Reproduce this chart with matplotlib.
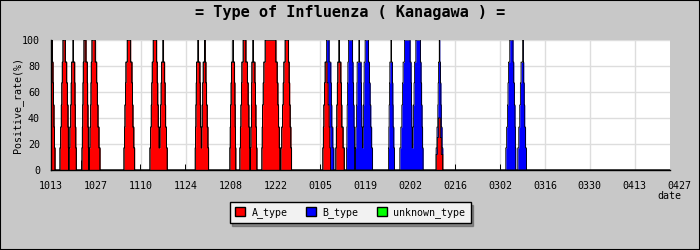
import numpy as np
import matplotlib
matplotlib.use("Agg")
import matplotlib.pyplot as plt
from matplotlib.patches import Patch, Rectangle
from matplotlib.transforms import blended_transform_factory

TITLE = "= Type of Influenza ( Kanagawa ) ="
DATE_LABELS = ["1013", "1027", "1110", "1124", "1208", "1222", "0105", "0119",
               "0202", "0216", "0302", "0316", "0330", "0413", "0427"]
LABEL_DAYS = list(range(0, 197, 14))
DAYS_SHOWN = 193

# positive rate steps per outbreak, (from_day, to_day, rate)
A_RECTS = [
    (0.00, 0.47, 100), (0.00, 0.62, 83), (0.00, 0.78, 67), (0.00, 0.93, 50), (0.00, 1.09, 33), (0.00, 1.25, 17),
    (3.74, 4.46, 100), (3.52, 4.89, 83), (3.37, 5.10, 67), (3.21, 5.30, 50), (3.01, 5.41, 33), (2.80, 5.52, 17),
    (6.86, 7.01, 100), (6.45, 7.39, 83), (6.30, 7.48, 67), (6.14, 7.57, 50), (5.88, 7.73, 33), (5.61, 7.88, 17),
    (10.28, 10.91, 100), (10.07, 11.31, 83), (9.98, 11.42, 67), (9.88, 11.53, 50), (9.77, 11.64, 33), (9.66, 11.75, 17),
    (12.78, 13.80, 100), (12.56, 14.24, 83), (12.47, 14.45, 67), (12.37, 14.65, 50), (12.16, 14.96, 33), (11.94, 15.27, 17),
    (23.78, 24.84, 100), (23.37, 25.24, 83), (23.22, 25.40, 67), (23.06, 25.55, 50), (22.91, 25.82, 33), (22.75, 26.08, 17),
    (31.88, 32.94, 100), (31.57, 33.12, 83), (31.42, 33.28, 67), (31.26, 33.44, 50), (31.06, 33.71, 33), (30.85, 33.97, 17),
    (34.90, 35.09, 100), (34.50, 35.43, 83), (34.34, 35.59, 67), (34.18, 35.74, 50), (33.97, 35.99, 33), (33.75, 36.24, 17),
    (45.81, 46.00, 100), (45.40, 46.43, 83), (45.29, 46.54, 67), (45.18, 46.65, 50), (45.08, 46.86, 33), (44.97, 47.06, 17),
    (47.90, 48.08, 100), (47.46, 48.30, 83), (47.31, 48.51, 67), (47.15, 48.71, 50), (47.00, 48.93, 33), (46.84, 49.14, 17),
    (56.72, 56.90, 100), (56.31, 57.24, 83), (56.16, 57.34, 67), (56.00, 57.43, 50), (55.89, 57.53, 33), (55.78, 57.62, 17),
    (59.92, 60.77, 100), (59.52, 61.23, 83), (59.37, 61.47, 67), (59.21, 61.70, 50), (59.05, 61.86, 33), (58.89, 62.01, 17),
    (62.95, 63.14, 100), (62.64, 63.58, 83), (62.56, 63.74, 67), (62.48, 63.89, 50), (62.33, 64.05, 33), (62.17, 64.20, 17),
    (66.78, 70.11, 100), (66.37, 70.52, 83), (66.17, 70.74, 67), (65.97, 70.96, 50), (65.86, 71.18, 33), (65.75, 71.39, 17),
    (73.01, 74.07, 100), (72.61, 74.26, 83), (72.41, 74.42, 67), (72.20, 74.57, 50), (71.94, 74.79, 33), (71.67, 75.01, 17),
    (85.48, 86.10, 83), (85.28, 86.41, 67), (85.07, 86.72, 50), (84.92, 86.94, 33), (84.76, 87.16, 17),
    (89.78, 89.93, 100), (89.43, 90.37, 83), (89.28, 90.53, 67), (89.12, 90.68, 50), (88.97, 91.06, 33), (88.81, 91.43, 17),
    (120.76, 121.38, 40), (120.44, 121.69, 25), (120.07, 122.16, 12),
]

# A+B together where B is present
B_RECTS = [
    (85.91, 86.72, 100), (85.60, 87.25, 83), (85.45, 87.41, 67), (85.29, 87.56, 50), (85.03, 87.87, 33), (84.76, 88.18, 17),
    (92.77, 94.02, 100), (92.55, 94.18, 83), (92.44, 94.34, 67), (92.33, 94.49, 50), (92.24, 94.63, 33), (92.15, 94.76, 17),
    (95.98, 96.17, 100), (95.45, 96.70, 83), (95.36, 96.81, 67), (95.26, 96.91, 50), (95.04, 97.17, 33), (94.82, 97.43, 17),
    (97.94, 99.00, 100), (97.63, 99.30, 83), (97.54, 99.51, 67), (97.44, 99.71, 50), (97.29, 99.98, 33), (97.13, 100.25, 17),
    (105.98, 106.14, 100), (105.64, 106.48, 83), (105.53, 106.58, 67), (105.42, 106.67, 50), (105.33, 106.89, 33), (105.23, 107.10, 17),
    (110.22, 111.97, 100), (109.78, 112.28, 83), (109.58, 112.39, 67), (109.38, 112.50, 50), (109.07, 112.61, 33), (108.75, 112.71, 17),
    (113.74, 115.20, 100), (113.34, 115.39, 83), (113.19, 115.55, 67), (113.03, 115.70, 50), (112.87, 115.86, 33), (112.71, 116.02, 17),
    (121.06, 121.22, 100), (120.81, 121.44, 83), (120.71, 121.57, 67), (120.60, 121.69, 50), (120.34, 121.93, 33), (120.07, 122.16, 17),
    (143.03, 144.06, 100), (142.63, 144.28, 83), (142.48, 144.48, 67), (142.32, 144.68, 50), (142.06, 144.79, 33), (141.79, 144.90, 17),
    (147.08, 147.27, 100), (146.55, 147.39, 83), (146.35, 147.55, 67), (146.14, 147.70, 50), (145.84, 147.97, 33), (145.53, 148.24, 17),
]

SPIKE_DAYS = [9.44, 27.73, 41.85, 83.83, 125.99, 140.01]
SPIKE_RATES = [8, 5, 5, 5, 5, 5]


def profile(x, rects):
    y = np.zeros_like(x)
    for lo, hi, v in rects:
        m = (x >= lo) & (x < hi)
        y[m] = np.maximum(y[m], v)
    return y


fig = plt.figure(figsize=(7, 2.5), dpi=100, facecolor="#c8c8c8")
fig.patches.append(Rectangle((0, 0), 1, 1, transform=fig.transFigure, fill=False,
                             edgecolor="black", linewidth=1.5))
ax = fig.add_axes([51 / 700, 0.32, 619 / 700, 0.52])

x = np.arange(0, DAYS_SHOWN, 0.01)
a = profile(x, A_RECTS)
tot = np.maximum(a, profile(x, B_RECTS))

ax.fill_between(x, 0, a, step="post", color="#ff0000", lw=0, zorder=2)
ax.fill_between(x, a, tot, step="post", color="#0000ff", lw=0, zorder=2)
ax.step(x, a, where="post", color="black", lw=0.6, zorder=3)
ax.step(x, tot, where="post", color="black", lw=0.6, zorder=3)
ax.vlines(SPIKE_DAYS, 0, SPIKE_RATES, color="black", lw=0.7, zorder=3)

mono = "DejaVu Sans Mono"
ax.set_xlim(0, DAYS_SHOWN)
ax.set_ylim(0, 100)
ax.set_xticks(LABEL_DAYS[:-1])
ax.set_xticklabels(DATE_LABELS[:-1], family=mono, fontsize=7.2)
# last date label sits past the plotted range
trans = blended_transform_factory(ax.transData, ax.transAxes)
ax.annotate(DATE_LABELS[-1], (LABEL_DAYS[-1], 0), xycoords=trans, xytext=(0, -8),
            textcoords="offset points", ha="center", va="top", family=mono,
            fontsize=7.2, annotation_clip=False)
ax.set_yticks(np.arange(0, 101, 20))
ax.set_yticklabels([str(v) for v in range(0, 101, 20)], family=mono, fontsize=7.2)
ax.tick_params(length=0, pad=8)
ax.grid(True, color="#dddddd", lw=1, zorder=0)
ax.set_axisbelow(True)
for s in ["top", "right"]:
    ax.spines[s].set_visible(False)
for s in ["left", "bottom"]:
    ax.spines[s].set_color("black")
    ax.spines[s].set_linewidth(1)

fig.text(0.5, 1 - 13 / 250, TITLE, ha="center", va="center", family=mono,
         fontsize=11, fontweight="bold")
fig.text(18 / 700, 1 - 105 / 250, "Positive_rate(%)", rotation=90, ha="center",
         va="center", family=mono, fontsize=7.2)
fig.text(681 / 700, 1 - 196 / 250, "date", ha="right", va="center", family=mono,
         fontsize=7.2)

handles = [Patch(facecolor="#ff0000", edgecolor="black", label="A_type"),
           Patch(facecolor="#0000ff", edgecolor="black", label="B_type"),
           Patch(facecolor="#00ff00", edgecolor="black", label="unknown_type")]
leg = fig.legend(handles=handles, loc="center", bbox_to_anchor=(350 / 700, 1 - 212.5 / 250),
                 ncol=3, prop={"family": mono, "size": 7.2}, frameon=True, fancybox=False,
                 shadow=True, handlelength=1.0, handleheight=1.0, handletextpad=0.7,
                 columnspacing=1.8, borderpad=0.5)
leg.get_frame().set_edgecolor("black")
leg.get_frame().set_facecolor("#f2f2f2")
leg.get_frame().set_linewidth(1)

fig.savefig("out.png", dpi=100, facecolor=fig.get_facecolor())
